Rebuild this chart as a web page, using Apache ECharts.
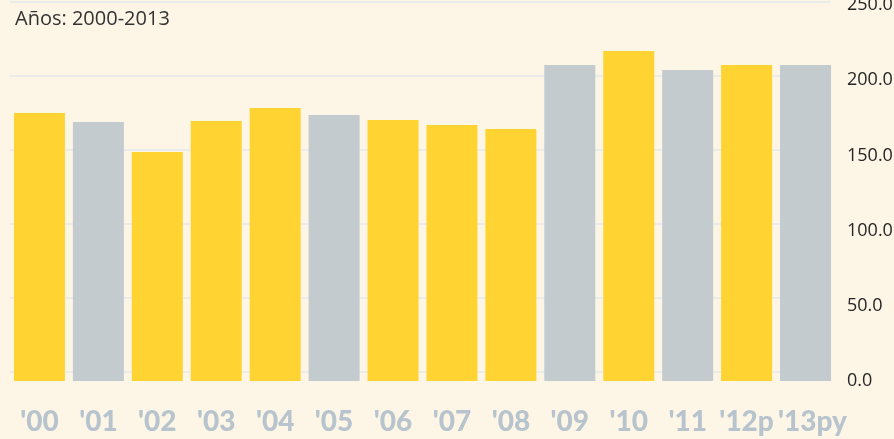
<!DOCTYPE html>
<html>
<head>
<meta charset="utf-8">
<script src="https://cdn.jsdelivr.net/npm/echarts@6/dist/echarts.min.js"></script>
<style>
  html, body { margin: 0; padding: 0; background: #fdf6e6; }
  #chart { width: 894px; height: 439px; }
</style>
</head>
<body>
<div id="chart"></div>
<script>
// años y valores
const years = ["'00", "'01", "'02", "'03", "'04", "'05", "'06", "'07", "'08", "'09", "'10", "'11", "'12p", "'13py"]
const values = [178.2, 172.2, 152.3, 172.9, 181.5, 176.9, 173.5, 170.2, 167.6, 210.1, 219.4, 206.8, 210.1, 210.1]
const isGrey = [false, true, false, false, false, true, false, false, false, true, false, true, false, true]
const yTicks = [0, 50, 100, 150, 200, 250]

const YELLOW = '#ffd432'
const GREY = '#c3cbcf'

const chart = echarts.init(document.getElementById('chart'))

const labelStyle = { fontFamily: 'Lato', fontWeight: 900, fontSize: 28, color: '#b8c4cd' }

const option = {
  backgroundColor: '#fdf6e6',
  animation: false,
  title: {
    text: 'Años: 2000-2013',
    left: 10,
    top: 4,
    textStyle: { fontFamily: 'Open Sans', fontSize: 20, fontWeight: 'normal', color: '#333' }
  },
  grid: [
    // solo para las líneas de fondo
    { left: 10, right: 63, top: 2, bottom: 67, outerBoundsMode: 'none', containLabel: false },
    // barras y etiquetas
    { left: 10, right: 59, top: 5, bottom: 58, outerBoundsMode: 'none', containLabel: false }
  ],
  xAxis: [
    { gridIndex: 0, type: 'category', data: years, show: false },
    {
      gridIndex: 1,
      type: 'category',
      data: years,
      axisLine: { show: false },
      axisTick: { show: false },
      axisLabel: {
        interval: 0,
        hideOverlap: false,
        margin: 27,
        ...labelStyle,
        // la última etiqueta va un poco a la derecha, como en el original
        formatter: (v, i) => i === years.length - 1 ? '{r|' + v + '}' : v,
        rich: { r: { ...labelStyle, padding: [0, 0, 0, 14] } }
      }
    }
  ],
  yAxis: [
    {
      gridIndex: 0,
      type: 'value',
      min: yTicks[0],
      max: yTicks[yTicks.length - 1],
      interval: 50,
      axisLabel: { show: false },
      axisLine: { show: false },
      axisTick: { show: false },
      splitLine: { lineStyle: { color: '#e4e7eb', width: 1.5 } }
    },
    {
      gridIndex: 1,
      type: 'value',
      position: 'right',
      min: yTicks[0],
      max: yTicks[yTicks.length - 1],
      interval: 50,
      axisLine: { show: false },
      axisTick: { show: false },
      splitLine: { show: false },
      axisLabel: {
        margin: 12,
        fontFamily: 'Open Sans',
        fontSize: 18,
        color: '#262626',
        formatter: v => v.toFixed(1)
      }
    }
  ],
  series: [{
    type: 'bar',
    xAxisIndex: 1,
    yAxisIndex: 1,
    barWidth: 51,
    data: values.map((v, i) => ({
      value: v,
      itemStyle: { color: isGrey[i] ? GREY : YELLOW }
    }))
  }]
}

chart.setOption(option)
</script>
</body>
</html>
